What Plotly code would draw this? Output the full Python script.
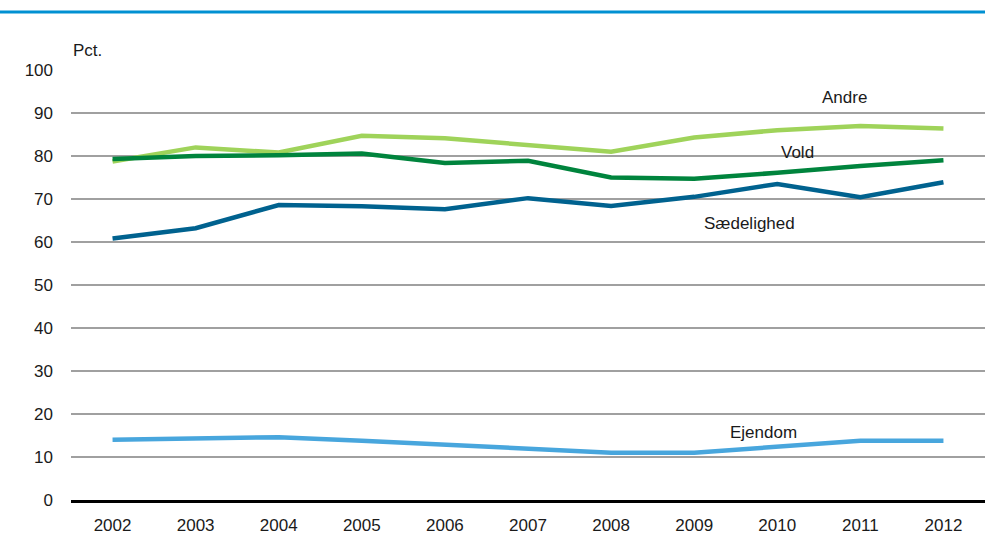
import plotly.graph_objects as go

years = ["2002", "2003", "2004", "2005", "2006", "2007", "2008", "2009", "2010", "2011", "2012"]
andre = [78.7, 82.0, 80.8, 84.7, 84.1, 82.6, 81.0, 84.3, 86.0, 87.0, 86.4]
vold = [79.3, 80.0, 80.2, 80.6, 78.4, 78.9, 75.0, 74.7, 76.1, 77.7, 79.0]
saedelighed = [60.8, 63.2, 68.6, 68.3, 67.6, 70.2, 68.4, 70.5, 73.5, 70.4, 73.9]
ejendom = [14.0, 14.2, 14.6, 13.8, 12.8, 11.9, 11.0, 11.0, 12.4, 13.8, 13.8]
y_ticks = [0, 10, 20, 30, 40, 50, 60, 70, 80, 90, 100]

FONT = "Liberation Sans Narrow, Arial Narrow, Liberation Sans, sans-serif"

series = [
    ("Andre", andre, "#9fd35a"),
    ("Vold", vold, "#00843d"),
    ("Sædelighed", saedelighed, "#00628f"),
    ("Ejendom", ejendom, "#48a6dd"),
]

fig = go.Figure()
for name, vals, col in series:
    fig.add_trace(go.Scatter(x=years, y=vals, mode="lines", name=name,
                             line=dict(color=col, width=4.5)))

labels = [("Andre", 8.81, 93.5), ("Vold", 8.24, 80.9),
          ("Sædelighed", 7.67, 64.4), ("Ejendom", 7.83, 15.8)]
for txt, xi, yi in labels:
    fig.add_annotation(x=xi, y=yi, xref="x", yref="y", text=txt, showarrow=False,
                       font=dict(size=17, color="#1a1a1a", family=FONT))

fig.add_annotation(x=0, y=1 + 8 / 430, xref="paper", yref="paper", text="Pct.",
                   showarrow=False, xanchor="left", yanchor="bottom",
                   font=dict(size=17, color="#1a1a1a", family=FONT))

# top rule
fig.add_shape(type="line", xref="paper", yref="paper",
              x0=-71 / 914, x1=1.0, y0=1 + 58 / 430, y1=1 + 58 / 430,
              line=dict(color="#0090d2", width=3))

fig.update_layout(
    width=985, height=545,
    margin=dict(l=71, r=0, t=70, b=45),
    paper_bgcolor="white", plot_bgcolor="white",
    showlegend=False,
    font=dict(family=FONT, size=17, color="#1a1a1a"),
    xaxis=dict(type="category", range=[-0.5, 10.5], showgrid=False,
               showline=True, linecolor="black", linewidth=3,
               ticks="", ticklabelstandoff=8, zeroline=False),
    yaxis=dict(range=[0, 100], tickvals=y_ticks, showgrid=True,
               gridcolor="#a0a0a0", gridwidth=2, showline=False,
               zeroline=False, ticks="", ticklabelstandoff=17),
)

fig.write_html("out.html", config={"displayModeBar": False},
               post_script="document.body.style.margin='0';document.body.style.padding='0';")
